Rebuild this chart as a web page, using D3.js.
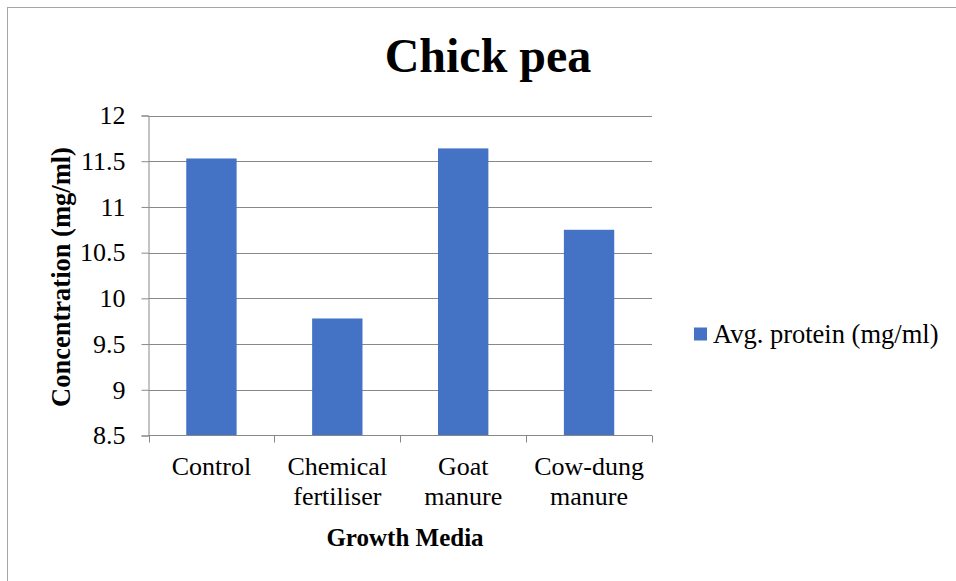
<!DOCTYPE html>
<html>
<head>
<meta charset="utf-8">
<script src="https://cdn.jsdelivr.net/npm/d3@7"></script>
<style>
  html, body { margin: 0; padding: 0; background: #ffffff; }
  svg { display: block; }
  text, tspan { font-family: "Liberation Serif", "Times New Roman", Times, serif !important; fill: #000; }
</style>
</head>
<body>
<script>
// Average protein concentration in chick pea grown on different media
const categories = [["Control"], ["Chemical", "fertiliser"], ["Goat", "manure"], ["Cow-dung", "manure"]];
const categoryKeys = ["Control", "Chemical fertiliser", "Goat manure", "Cow-dung manure"];
const proteinValues = [11.53, 9.78, 11.64, 10.75];
const yTicks = [8.5, 9, 9.5, 10, 10.5, 11, 11.5, 12];
const seriesName = "Avg. protein (mg/ml)";
const chartTitle = "Chick pea";
const xTitle = "Growth Media";
const yTitle = "Concentration (mg/ml)";

const SERIF = "'Liberation Serif', 'Times New Roman', Times, serif";
const W = 956, H = 581;
const plot = { left: 148.5, right: 652, top: 115.5, bottom: 435.5 };
const barColor = "#4472C4";
const gridColor = "#888888";

const svg = d3.select("body").append("svg")
  .attr("width", W).attr("height", H)
  .style("font-family", SERIF);

// chart frame
svg.append("rect")
  .attr("x", 7.5).attr("y", 7.5)
  .attr("width", 1200).attr("height", 1200)
  .attr("fill", "none").attr("stroke", "#a6a6a6").attr("stroke-width", 1);

const x = d3.scaleBand()
  .domain(categoryKeys)
  .range([plot.left, plot.right])
  .padding(0);

const y = d3.scaleLinear()
  .domain([yTicks[0], yTicks[yTicks.length - 1]])
  .range([plot.bottom, plot.top]);

// horizontal gridlines
svg.append("g")
  .selectAll("line")
  .data(yTicks.slice(1))
  .join("line")
  .attr("x1", plot.left).attr("x2", plot.right)
  .attr("y1", d => Math.round(y(d)) + 0.5).attr("y2", d => Math.round(y(d)) + 0.5)
  .attr("stroke", gridColor).attr("stroke-width", 1);

// bars
const barFrac = 0.4;
svg.append("g")
  .selectAll("rect")
  .data(proteinValues)
  .join("rect")
  .attr("x", (d, i) => x(categoryKeys[i]) + x.bandwidth() * (1 - barFrac) / 2)
  .attr("width", x.bandwidth() * barFrac)
  .attr("y", d => y(d))
  .attr("height", d => y(yTicks[0]) - y(d))
  .attr("fill", barColor);

// y axis
const yAxis = svg.append("g")
  .attr("transform", `translate(${plot.left},0)`)
  .call(d3.axisLeft(y).tickValues(yTicks).tickSize(7).tickPadding(16).tickFormat(d => String(d)));
yAxis.attr("font-family", null).attr("font-size", null);
yAxis.selectAll("path, line").attr("stroke", gridColor);
yAxis.selectAll("text")
  .style("font-family", SERIF)
  .attr("font-size", 26).attr("fill", "#000");

// x axis with ticks at category boundaries
const xAxisG = svg.append("g")
  .attr("transform", `translate(0,${plot.bottom})`);
xAxisG.append("line")
  .attr("x1", plot.left).attr("x2", plot.right)
  .attr("y1", 0).attr("y2", 0)
  .attr("stroke", gridColor);
const boundaries = categoryKeys.map(k => x(k)).concat([plot.right]);
xAxisG.selectAll("line.tick")
  .data(boundaries)
  .join("line")
  .attr("class", "tick")
  .attr("x1", d => Math.round(d) + 0.5).attr("x2", d => Math.round(d) + 0.5)
  .attr("y1", 0).attr("y2", 7)
  .attr("stroke", gridColor);

// category labels
const labelG = svg.append("g");
categories.forEach((lines, i) => {
  const cx = x(categoryKeys[i]) + x.bandwidth() / 2;
  const t = labelG.append("text")
    .attr("text-anchor", "middle")
    .style("font-family", SERIF)
    .attr("font-size", 26);
  lines.forEach((ln, j) => {
    t.append("tspan").attr("x", cx).attr("y", 475 + j * 30).text(ln);
  });
});

// titles
svg.append("text")
  .attr("x", 488).attr("y", 72)
  .attr("text-anchor", "middle")
  .style("font-family", SERIF)
  .attr("font-size", 48).attr("font-weight", "bold")
  .text(chartTitle);

svg.append("text")
  .attr("x", 405).attr("y", 546)
  .attr("text-anchor", "middle")
  .style("font-family", SERIF)
  .attr("font-size", 25).attr("font-weight", "bold")
  .text(xTitle);

svg.append("text")
  .attr("transform", `translate(70,277) rotate(-90)`)
  .attr("text-anchor", "middle")
  .style("font-family", SERIF)
  .attr("font-size", 26.5).attr("font-weight", "bold")
  .text(yTitle);

// legend
const legend = svg.append("g").attr("transform", "translate(694,327.5)");
legend.append("rect")
  .attr("width", 13).attr("height", 13)
  .attr("fill", barColor);
legend.append("text")
  .attr("x", 19).attr("y", 15.5)
  .style("font-family", SERIF)
  .attr("font-size", 26.5)
  .text(seriesName);
</script>
</body>
</html>
